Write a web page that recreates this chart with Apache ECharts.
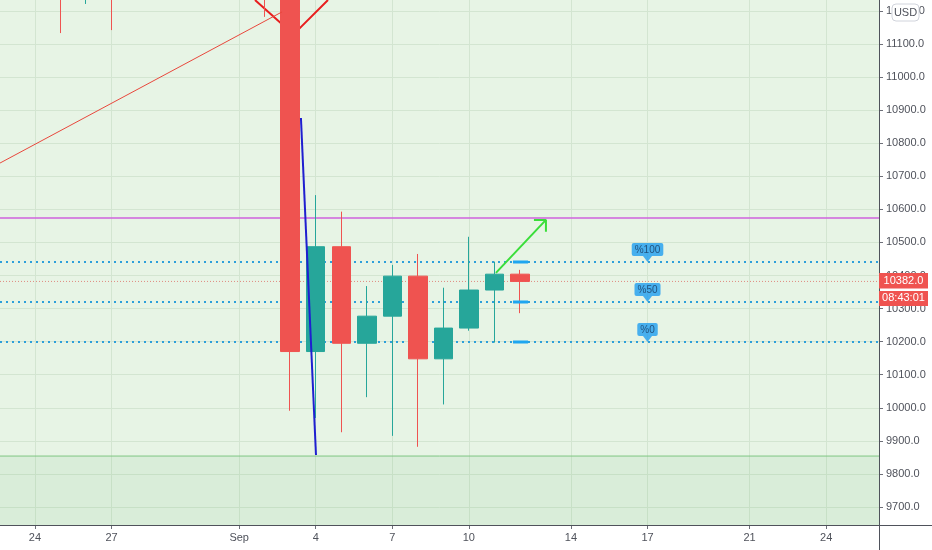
<!DOCTYPE html>
<html><head><meta charset="utf-8">
<script src="https://cdn.jsdelivr.net/npm/echarts@6/dist/echarts.min.js"></script>
<style>html,body{margin:0;padding:0;background:#fff}#c{width:932px;height:550px}</style>
</head><body><div id="c"></div>
<script>
// ---- data ----
const dates  = ['2020-08-22','2020-08-23','2020-08-24','2020-08-25','2020-08-26','2020-08-27','2020-08-28','2020-08-29','2020-08-30','2020-08-31','2020-09-01','2020-09-02','2020-09-03','2020-09-04','2020-09-05','2020-09-06','2020-09-07','2020-09-08','2020-09-09','2020-09-10','2020-09-11','2020-09-12'];
const opens  = [11590,11680,11660,11750,11330,11470,11320,11530,11480,11710,11680,11970,11410,10170,10487,10195,10277,10398,10148,10241,10356,10404];
const closes = [11680,11660,11750,11330,11470,11320,11530,11480,11710,11680,11970,11410,10170,10487,10195,10277,10398,10148,10241,10356,10404,10382];
const lows   = [11370,11520,11600,11133,11221,11142,11290,11430,11460,11570,11560,11182, 9991, 9969, 9926,10032, 9915, 9882,10010,10233,10197,10286];
const highs  = [11690,11700,11830,11770,11530,11590,11550,11570,11720,11770,12080,11990,11460,10643,10593,10368,10432,10465,10363,10517,10442,10417];

const tickDates  = ['2020-08-24','2020-08-27','2020-09-01','2020-09-04','2020-09-07','2020-09-10','2020-09-14','2020-09-17','2020-09-21','2020-09-24'];
const tickLabels = ['24','27','Sep','4','7','10','14','17','21','24'];
const priceTicks = [9700,9800,9900,10000,10100,10200,10300,10400,10500,10600,10700,10800,10900,11000,11100,11200];

// drawings (x = day number counted from Aug 1 = 1, y = price)
const trendLine  = [[22.63,10740],[33.68,11197]];
const vShape     = [[32.62,11233],[34.13,11129],[35.48,11233]];
const blueLine   = [[34.42,10876],[35.01,9857]];
const arrowLine  = [[42.06,10408],[44.02,10568]];
const arrowHead  = [[43.55,10568],[44.02,10568],[44.02,10532]];
const fibLevels  = [10441,10320,10199];
const fibLabels  = ['%100','%50','%0'];
const fibLabelDay = 48;
const fibMarkSpan = [42.73,43.32];
const resistance = 10574;
const support    = 9854;
const lastPrice  = 10382;
const countdown  = '08:43:01';
const currency   = 'USD';

// ---- build ----
function dayNum(s){const p=s.split('-').map(Number);return (Date.UTC(p[0],p[1]-1,p[2])-Date.UTC(2020,7,0))/864e5;}
const tickDays = tickDates.map(dayNum);
const xMin = 22.629, xMax = 57.07, yMin = 9645.5, yMax = 11233;
const candles = dates.map((d,i)=>[dayNum(d),opens[i],closes[i],lows[i],highs[i]]);

const FONT = 'Liberation Sans';
function seg(data,color,width,z,type){
  return {type:'line',data:data,symbol:'none',silent:true,z:z,clip:true,
    lineStyle:{color:color,width:width,type:type||'solid'}};
}
const hLine = (v,color,width,type)=>seg([[xMin,v],[xMax,v]],color,width,1,type);

const series = [];
series.push({type:'line',data:[],silent:true,z:0,
  markArea:{silent:true,itemStyle:{color:'rgba(70,160,80,0.08)'},data:[[{yAxis:yMin},{yAxis:support}]]}});
series.push(hLine(support,'#7fc683',1));
series.push(hLine(resistance,'#cf63dc',1.5));
fibLevels.forEach(v=>series.push(hLine(v,'#2d9fda',2,[2,4])));
series.push(hLine(lastPrice,'#df8a80',1,[1,2]));
series.push({type:'candlestick',data:candles,encode:{x:0,y:[1,2,3,4]},barWidth:19,z:3,silent:true,clip:true,
  itemStyle:{color:'#26a69a',color0:'#ef5350',borderColor:'#26a69a',borderColor0:'#ef5350',borderWidth:1}});
series.push(seg(trendLine,'#e8473c',1,4));
series.push(seg(vShape,'#e81e1e',2,2));
series.push(seg(blueLine,'#1f1fd0',2,4));
series.push(seg(arrowLine,'#3ade3a',2,4));
series.push(seg(arrowHead,'#3ade3a',2,4));
fibLevels.forEach(v=>series.push(seg([[fibMarkSpan[0],v],[fibMarkSpan[1],v]],'#1ea6f0',3,4)));
series.push({type:'scatter',z:5,silent:true,symbol:'triangle',symbolRotate:180,symbolSize:[9,6],symbolOffset:[0,-3],
  itemStyle:{color:'#1f9df0'},
  data:fibLevels.map((v,i)=>[fibLabelDay,v,fibLabels[i]]),
  label:{show:true,position:'top',distance:0,formatter:p=>p.value[2],fontFamily:FONT,fontSize:10,color:'#17375e',
    backgroundColor:'#1f9df0',padding:[2,3,1,3],borderRadius:2}});

const chart = echarts.init(document.getElementById('c'));
chart.setOption({
  animation:false,
  backgroundColor:'#ffffff',
  grid:{left:0,right:53,top:0,bottom:25,show:true,backgroundColor:'#e7f4e5',borderWidth:0},
  xAxis:{type:'value',min:xMin,max:xMax,
    axisLine:{show:false},
    axisTick:{show:true,customValues:tickDays,length:4,lineStyle:{color:'#6e7079'}},
    axisLabel:{customValues:tickDays,margin:7,color:'#4f525b',fontFamily:FONT,fontSize:11,
      formatter:v=>{const i=tickDays.indexOf(v);return i<0?'':tickLabels[i];}},
    splitLine:{show:true,lineStyle:{color:'#d3e5d1',width:1}}},
  yAxis:{type:'value',position:'right',min:yMin,max:yMax,
    axisLine:{show:false},
    axisTick:{show:true,customValues:priceTicks,length:4,lineStyle:{color:'#6e7079'}},
    axisLabel:{customValues:priceTicks,margin:7,color:'#4f525b',fontFamily:FONT,fontSize:11,
      formatter:v=>Number(v).toFixed(1)},
    splitLine:{show:true,lineStyle:{color:'#d3e5d1',width:1}}},
  series:series
});

const gx = chart.convertToPixel({xAxisIndex:0}, xMax);
const gy = chart.convertToPixel({yAxisIndex:0}, yMin);
const py = chart.convertToPixel({yAxisIndex:0}, lastPrice);
chart.setOption({graphic:[
  {type:'line',shape:{x1:Math.round(gx)+0.5,y1:0,x2:Math.round(gx)+0.5,y2:550},style:{stroke:'#4f525b',lineWidth:1},z:10},
  {type:'line',shape:{x1:0,y1:Math.round(gy)+0.5,x2:932,y2:Math.round(gy)+0.5},style:{stroke:'#4f525b',lineWidth:1},z:10},
  {type:'rect',shape:{x:gx,y:py-8.5,width:49,height:15.5},style:{fill:'#ef5350'},z:11},
  {type:'text',x:gx+24.5,y:py-0.5,style:{text:lastPrice.toFixed(1),fill:'#ffffff',font:'11px '+FONT,textAlign:'center',textVerticalAlign:'middle'},z:12},
  {type:'rect',shape:{x:gx,y:py+9.5,width:49,height:15},style:{fill:'#ef5350'},z:11},
  {type:'text',x:gx+24.5,y:py+17,style:{text:countdown,fill:'#ffffff',font:'11px '+FONT,textAlign:'center',textVerticalAlign:'middle'},z:12},
  {type:'rect',shape:{x:gx+13,y:4,width:27,height:17,r:4},style:{fill:'#ffffff',stroke:'#d1d4dc',lineWidth:1},z:11},
  {type:'text',x:gx+26.5,y:12.5,style:{text:currency,fill:'#4f525b',font:'11px '+FONT,textAlign:'center',textVerticalAlign:'middle'},z:12}
]});
</script>
</body></html>
